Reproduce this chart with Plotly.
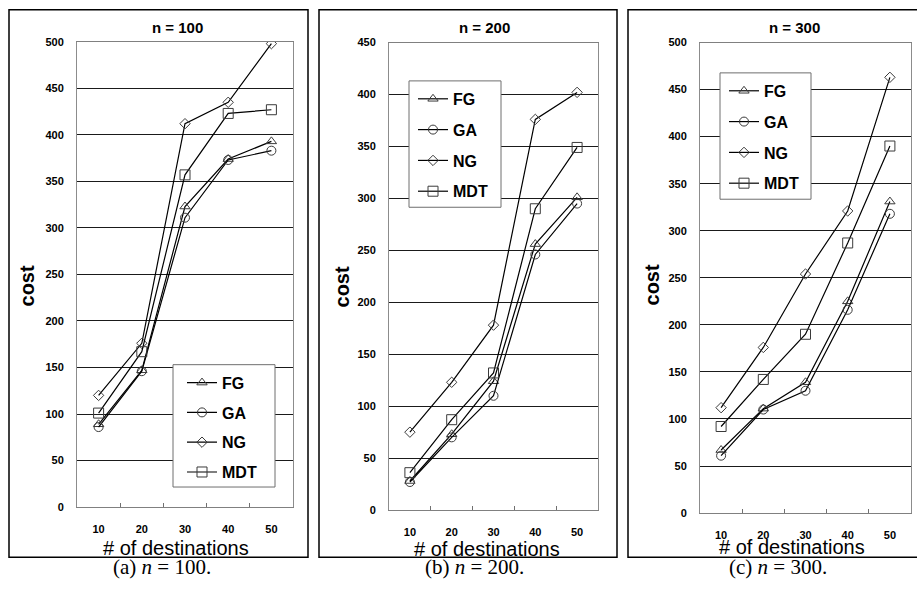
import plotly.graph_objects as go

W, H = 917, 591

categories = ["10", "20", "30", "40", "50"]
series_names = ["FG", "GA", "NG", "MDT"]

a_FG = [89, 147, 323, 374, 393]
a_GA = [86, 146, 311, 373, 383]
a_NG = [120, 176, 412, 435, 498]
a_MDT = [101, 167, 357, 423, 427]

b_FG = [28, 73, 124, 256, 301]
b_GA = [27, 70, 110, 246, 295]
b_NG = [75, 123, 178, 376, 402]
b_MDT = [36, 87, 132, 290, 349]

c_FG = [67, 111, 139, 225, 331]
c_GA = [61, 110, 130, 216, 318]
c_NG = [112, 176, 254, 321, 463]
c_MDT = [92, 142, 190, 287, 390]

panel_titles = ["n = 100", "n = 200", "n = 300"]
captions = ["(a) <i>n</i> = 100.", "(b) <i>n</i> = 200.", "(c) <i>n</i> = 300."]
y_max = [500, 450, 500]

panels = [
    [a_FG, a_GA, a_NG, a_MDT],
    [b_FG, b_GA, b_NG, b_MDT],
    [c_FG, c_GA, c_NG, c_MDT],
]

symbols = {"FG": "triangle-up-open", "GA": "circle-open", "NG": "diamond-open", "MDT": "square-open"}
msizes = {"FG": 9, "GA": 9, "NG": 8, "MDT": 10}

SANS = "Liberation Sans, Arial, sans-serif"
SERIF = "Liberation Serif, Times New Roman, serif"

def px_x(x):
    return x / W

def px_y(y):
    # compensate small vertical offset/scale seen in the rendered picture
    y = (y - 6.3) / 0.977
    return 1 - y / H

# plot-area pixel boxes (left, right, bottom, top)
boxes = [(77, 293, 506, 42), (389, 598, 509, 42.7), (700, 911, 512, 42.7)]
frames = [(9, 308, 10, 556), (319, 617, 10, 556), (628, 940, 10, 556)]
legend_boxes = [(173, 275, 364, 486), (409, 501, 81, 207), (720, 811, 73, 199)]
legend_shift = [9, 4, 4]
legend_gap = [6, 7, 7]
title_pos = [(177, 28), (484, 28), (794, 28)]
xtitle_pos = [(176, 547), (487, 548), (792, 546)]
ytitle_pos = [(27, 286), (342, 287), (652, 285)]
caption_pos = [(162, 566), (474, 566), (778, 566)]

fig = go.Figure()
legend_keys = ["legend", "legend2", "legend3"]

for p, data in enumerate(panels):
    xa = "x" if p == 0 else f"x{p+1}"
    ya = "y" if p == 0 else f"y{p+1}"
    for name, vals in zip(series_names, data):
        fig.add_trace(go.Scatter(
            x=categories, y=vals, name=name, mode="lines+markers",
            xaxis=xa, yaxis=ya,
            line=dict(color="black", width=1.2),
            marker=dict(symbol=symbols[name], size=msizes[name], color="#3a3a3a",
                        line=dict(width=1)),
            legend=legend_keys[p], legendgroup=f"p{p}_{name}",
        ))

layout = dict(
    width=W, height=H, margin=dict(l=0, r=0, t=0, b=0),
    paper_bgcolor="white", plot_bgcolor="white",
    font=dict(family=SANS, color="black"),
    shapes=[], annotations=[],
)

def ann(text, pos, size, family, angle=0):
    x, y = pos
    return dict(text=text, x=px_x(x), y=px_y(y), xref="paper", yref="paper",
                xanchor="center", yanchor="middle", showarrow=False, textangle=angle,
                font=dict(size=size, family=family, color="black"))

for p in range(3):
    l, r, b, t = boxes[p]
    sfx = "" if p == 0 else str(p + 1)
    layout[f"xaxis{sfx}"] = dict(
        domain=[px_x(l), px_x(r)], anchor=f"y{sfx}", type="category",
        categoryorder="array", categoryarray=categories,
        range=[-0.5, 4.5], tickson="boundaries", ticks="inside", ticklen=4,
        tickcolor="#707070", showgrid=False, showline=True, linecolor="#808080",
        mirror=True, linewidth=1,
        tickfont=dict(size=11, family=SANS, weight="bold"), ticklabelstandoff=12,
        fixedrange=True,
    )
    layout[f"yaxis{sfx}"] = dict(
        domain=[px_y(b), px_y(t)], anchor=f"x{sfx}",
        range=[0, y_max[p]], dtick=50, showgrid=True, gridcolor="#1a1a1a",
        gridwidth=1, showline=True, linecolor="#8c8c8c", mirror=True, linewidth=1,
        ticks="", tickfont=dict(size=11, family=SANS, weight="bold"),
        ticklabelstandoff=10, zeroline=False, fixedrange=True,
    )
    bx0, bx1, by0, by1 = legend_boxes[p]
    layout["shapes"].append(dict(type="rect", xref="paper", yref="paper", layer="above",
                                 x0=px_x(bx0), x1=px_x(bx1), y0=px_y(by1), y1=px_y(by0),
                                 fillcolor="white", line=dict(color="#6e6e6e", width=1)))
    layout[legend_keys[p]] = dict(
        x=px_x(bx0 + legend_shift[p]), y=px_y(by0 + 1), xanchor="left", yanchor="top",
        bgcolor="rgba(0,0,0,0)", borderwidth=0,
        font=dict(size=16, family=SANS, weight="bold"),
        traceorder="grouped", tracegroupgap=legend_gap[p], itemwidth=30,
    )
    fx0, fx1, fy0, fy1 = frames[p]
    layout["shapes"].append(dict(type="rect", xref="paper", yref="paper",
                                 x0=px_x(fx0), x1=px_x(fx1), y0=px_y(fy1), y1=px_y(fy0),
                                 line=dict(color="black", width=1.5)))
    layout["annotations"].append(ann(f"<b>{panel_titles[p]}</b>", title_pos[p], 15, SANS))
    layout["annotations"].append(ann("# of destinations", xtitle_pos[p], 20, SANS))
    layout["annotations"].append(ann("<b>cost</b>", ytitle_pos[p], 20, SANS, -90))
    layout["annotations"].append(ann(captions[p], caption_pos[p], 21, SERIF))

fig.update_layout(**layout)
fig.write_html("out.html", config={"displayModeBar": False},
               post_script="document.body.style.margin='0px';document.body.style.overflow='hidden';")
